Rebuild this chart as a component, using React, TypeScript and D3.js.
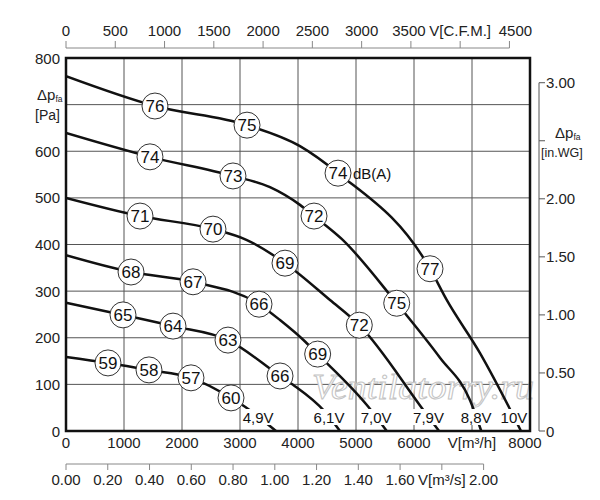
import React from 'react'
import * as d3 from 'd3'

// fan curves: flow in m3/h, static pressure in Pa
const voltages = ['4,9V', '6,1V', '7,0V', '7,9V', '8,8V', '10V']

const flow49 = [0, 724, 1431, 2155, 2845, 3086, 3620]
const press49 = [159, 146, 131, 114, 71, 52, 0]
const flow61 = [0, 983, 1845, 2793, 3690, 3914, 4466, 4724]
const press61 = [275, 249, 225, 195, 118, 99, 41, 0]
const flow70 = [0, 1121, 2190, 3328, 3690, 4121, 4339, 5212, 5530]
const press70 = [377, 341, 320, 272, 238, 192, 165, 52, 0]
const flow79 = [0, 1276, 2534, 3110, 3776, 4552, 5057, 6160, 6431]
const press79 = [500, 461, 433, 410, 360, 281, 227, 45, 0]
const flow88 = [0, 1448, 2879, 3517, 4034, 4276, 4753, 5702, 6448, 6966, 7160]
const press88 = [639, 588, 547, 523, 485, 461, 412, 274, 157, 66, 0]
const flow10 = [0, 1534, 3121, 4034, 4690, 6276, 6564, 7138, 7638, 7845]
const press10 = [761, 697, 656, 611, 553, 348, 281, 167, 51, 0]

// sound level markers dB(A)
const dbFlow49 = [724, 1431, 2155, 2845]
const db49 = [59, 58, 57, 60]
const dbFlow61 = [983, 1845, 2793, 3690]
const db61 = [65, 64, 63, 66]
const dbFlow70 = [1121, 2190, 3328, 4339]
const db70 = [68, 67, 66, 69]
const dbFlow79 = [1276, 2534, 3776, 5057]
const db79 = [71, 70, 69, 72]
const dbFlow88 = [1448, 2879, 4276, 5702]
const db88 = [74, 73, 72, 75]
const dbFlow10 = [1534, 3121, 4690, 6276]
const db10 = [76, 75, 74, 77]

const flowTicks = [0, 1000, 2000, 3000, 4000, 5000, 6000, 7000, 8000]
const flowLabels = ['0', '1000', '2000', '3000', '4000', '5000', '6000', 'V[m³/h]', '8000']
const paTicks = [0, 100, 200, 300, 400, 500, 600, 700, 800]
const cfmTicks = [0, 500, 1000, 1500, 2000, 2500, 3000, 3500, 4000, 4500]
const cfmLabels = ['0', '500', '1000', '1500', '2000', '2500', '3000', '3500', 'V[C.F.M.]', '4500']
const m3sTicks = [0, 0.2, 0.4, 0.6, 0.8, 1.0, 1.2, 1.4, 1.6, 1.8, 2.0]
const m3sLabels = ['0.00', '0.20', '0.40', '0.60', '0.80', '1.00', '1.20', '1.40', '1.60', 'V[m³/s]', '2.00']
const wgTicks = [0, 0.5, 1.0, 1.5, 2.0, 2.5, 3.0]
const wgLabels = ['0', '0.50', '1.00', '1.50', '2.00', '', '3.00']

const curves = [
  { flow: flow49, press: press49, dbFlow: dbFlow49, db: db49 },
  { flow: flow61, press: press61, dbFlow: dbFlow61, db: db61 },
  { flow: flow70, press: press70, dbFlow: dbFlow70, db: db70 },
  { flow: flow79, press: press79, dbFlow: dbFlow79, db: db79 },
  { flow: flow88, press: press88, dbFlow: dbFlow88, db: db88 },
  { flow: flow10, press: press10, dbFlow: dbFlow10, db: db10 },
]

const FONT = '"Liberation Sans", Arial, sans-serif'
const CFM = 1.699 // m3/h per cfm
const PA_PER_WG = 249

const left = 66
const right = 530
const top = 58
const bottom = 431

function pressAt(flow: number[], press: number[], q: number) {
  for (let i = 1; i < flow.length; i++) {
    if (q <= flow[i]) {
      const t = (q - flow[i - 1]) / (flow[i] - flow[i - 1])
      return press[i - 1] + t * (press[i] - press[i - 1])
    }
  }
  return press[press.length - 1]
}

function flowAt(flow: number[], press: number[], p: number) {
  for (let i = 1; i < press.length; i++) {
    if (p >= press[i]) {
      const t = (press[i - 1] - p) / (press[i - 1] - press[i])
      return flow[i - 1] + t * (flow[i] - flow[i - 1])
    }
  }
  return flow[flow.length - 1]
}

export default function App() {
  const x = d3.scaleLinear().domain([0, 8000]).range([left, right])
  const y = d3.scaleLinear().domain([0, 800]).range([bottom, top])
  const xCfm = (v: number) => x(v * CFM)
  const xM3s = (v: number) => x(v * 3600)
  const yWg = (v: number) => y(v * PA_PER_WG)

  const line = d3
    .line<[number, number]>()
    .x((d) => x(d[0]))
    .y((d) => y(d[1]))
    .curve(d3.curveMonotoneX)

  const topAxisY = 48
  const m3sAxisY = 464
  const wgAxisX = 539

  // small nudges of the crowded labels at the right end of the top axis
  const cfmShift = (i: number) => (i === cfmTicks.length - 1 ? 6 : i === cfmTicks.length - 3 ? -2 : 0)

  return (
    <svg
      width={600}
      height={500}
      style={{ position: 'absolute', left: 0, top: 0, background: '#fff' }}
      fontFamily={FONT}
    >
      <defs>
        <clipPath id="plot">
          <rect x={left} y={top} width={right - left} height={bottom - top} />
        </clipPath>
      </defs>

      {/* grid */}
      {flowTicks.slice(1, -1).map((t) => (
        <line key={'gx' + t} x1={x(t)} x2={x(t)} y1={top} y2={bottom} stroke="#555" strokeWidth={1} />
      ))}
      {paTicks.slice(1, -1).map((t) => (
        <line key={'gy' + t} x1={left} x2={right} y1={y(t)} y2={y(t)} stroke="#555" strokeWidth={1} />
      ))}

      {/* watermark */}
      <text
        x={423}
        y={399}
        textAnchor="middle"
        fontFamily='"Liberation Serif", "DejaVu Serif", serif'
        fontStyle="italic"
        fontSize={35}
        fill="#fff"
        stroke="#c4c4c4"
        strokeWidth={1}
        textLength={222}
        lengthAdjust="spacingAndGlyphs"
      >
        Ventilatorry.ru
      </text>

      {/* curves */}
      <g clipPath="url(#plot)">
        {curves.map((c, i) => (
          <path
            key={'c' + i}
            d={line(c.flow.map((q, j) => [q, c.press[j]] as [number, number])) || ''}
            fill="none"
            stroke="#111"
            strokeWidth={2.5}
          />
        ))}
      </g>

      {/* voltage labels */}
      {curves.map((c, i) => {
        const q = flowAt(c.flow, c.press, 30)
        const cx = x(q)
        const cy = y(30)
        const w = voltages[i].length * 8 + 2
        return (
          <g key={'v' + i}>
            <rect x={cx - w / 2} y={cy - 8} width={w} height={16} fill="#fff" />
            <text x={cx} y={cy + 5.5} textAnchor="middle" fontSize={15} fill="#111">
              {voltages[i]}
            </text>
          </g>
        )
      })}

      {/* dB markers */}
      {curves.map((c, i) =>
        c.dbFlow.map((q, j) => {
          const cx = x(q)
          const cy = y(pressAt(c.flow, c.press, q))
          return (
            <g key={'db' + i + '-' + j}>
              <circle cx={cx} cy={cy} r={13} fill="#fff" stroke="#333" strokeWidth={1} />
              <text x={cx} y={cy + 6} textAnchor="middle" fontSize={17} fill="#111">
                {c.db[j]}
              </text>
            </g>
          )
        })
      )}
      <text x={x(dbFlow10[2]) + 15} y={y(pressAt(flow10, press10, dbFlow10[2])) + 5.5} fontSize={15} fill="#111">
        dB(A)
      </text>

      {/* frame */}
      <rect x={left} y={top} width={right - left} height={bottom - top} fill="none" stroke="#111" strokeWidth={2.5} />

      {/* left axis labels */}
      {paTicks.map((t) =>
        t === 700 ? null : (
          <text key={'yl' + t} x={60} y={y(t) + 5.5} textAnchor="end" fontSize={15} fill="#222">
            {t}
          </text>
        )
      )}
      <text x={37} y={100} fontSize={15} fill="#222">
        Δp<tspan fontSize={8.5} dy={2}>fa</tspan>
      </text>
      <text x={35} y={120} fontSize={14} fill="#222">
        [Pa]
      </text>

      {/* bottom m3/h labels */}
      {flowTicks.map((t, i) => (
        <text
          key={'xl' + t}
          x={x(t) - (i === flowTicks.length - 1 ? 5 : 0)}
          y={448}
          textAnchor="middle"
          fontSize={15}
          fill="#222"
        >
          {flowLabels[i]}
        </text>
      ))}

      {/* top CFM axis */}
      <line x1={xCfm(0)} x2={xCfm(4500)} y1={topAxisY} y2={topAxisY} stroke="#888" strokeWidth={1} />
      {cfmTicks.map((t, i) => (
        <g key={'cf' + t}>
          <line x1={xCfm(t)} x2={xCfm(t)} y1={topAxisY} y2={topAxisY - 7} stroke="#888" strokeWidth={1} />
          <text x={xCfm(t) + cfmShift(i)} y={36} textAnchor="middle" fontSize={15} fill="#222">
            {cfmLabels[i]}
          </text>
        </g>
      ))}

      {/* bottom m3/s axis */}
      <line x1={xM3s(0)} x2={xM3s(2)} y1={m3sAxisY} y2={m3sAxisY} stroke="#888" strokeWidth={1} />
      {m3sTicks.map((t, i) => (
        <g key={'ms' + t}>
          <line x1={xM3s(t)} x2={xM3s(t)} y1={m3sAxisY} y2={m3sAxisY + 6} stroke="#888" strokeWidth={1} />
          <text x={xM3s(t)} y={484.5} textAnchor="middle" fontSize={15} fill="#222">
            {m3sLabels[i]}
          </text>
        </g>
      ))}

      {/* right in.WG axis */}
      <line x1={wgAxisX} x2={wgAxisX} y1={yWg(0)} y2={yWg(3)} stroke="#555" strokeWidth={1} />
      {wgTicks.map((t, i) => (
        <g key={'wg' + t}>
          <line x1={wgAxisX} x2={wgAxisX + 6} y1={yWg(t)} y2={yWg(t)} stroke="#555" strokeWidth={1} />
          <text x={wgAxisX + 7} y={yWg(t) + 5.5} fontSize={15} fill="#222">
            {wgLabels[i]}
          </text>
        </g>
      ))}
      <text x={555} y={138} fontSize={15} fill="#222">
        Δp<tspan fontSize={8.5} dy={2}>fa</tspan>
      </text>
      <text x={541} y={157} fontSize={12.5} fill="#222">
        [in.WG]
      </text>
    </svg>
  )
}
